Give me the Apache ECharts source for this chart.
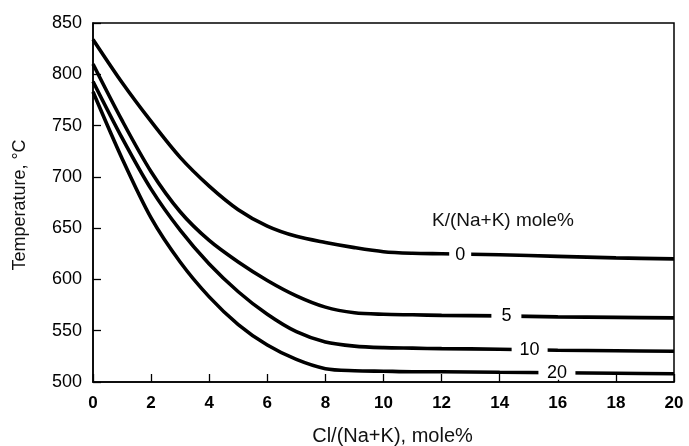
<!DOCTYPE html>
<html>
<head>
<meta charset="utf-8">
<script src="https://cdn.jsdelivr.net/npm/echarts@6/dist/echarts.min.js"></script>
<style>
html,body{margin:0;padding:0;background:#fff;}
#chart{width:689px;height:446px;}
</style>
</head>
<body>
<div id="chart"></div>
<script>
// Cl/(Na+K), mole%
const clValues = [0, 1, 2, 3, 4, 5, 6, 7, 8, 9, 10, 11, 12, 14, 16, 18, 20];
// Temperature (°C) for K/(Na+K) mole% = 0, 5, 10, 20
const curveK0  = [834, 792, 754, 719, 691, 668, 652, 642, 636, 631, 627, 625.5, 625, 624, 622.5, 621, 620];
const curveK5  = [810, 755, 705, 666, 638, 617, 599, 584, 573, 567.5, 566, 565.5, 565, 564.5, 563.5, 563, 562.5];
const curveK10 = [793, 738, 688, 648, 615, 588, 566, 549, 539, 535, 533.5, 533, 532.5, 532, 531, 530.5, 530];
const curveK20 = [783, 718, 660, 617, 583, 556, 536, 522, 513, 511, 510.5, 510, 510, 509.5, 509, 508.5, 508];
const curveNames = ['0', '5', '10', '20'];
// Where each curve's label sits (Cl value, temperature)
const labelCl   = [12.64, 14.23, 15.03, 15.97];
const labelTemp = [624, 564.5, 531.5, 509];

const xTicks = [0, 2, 4, 6, 8, 10, 12, 14, 16, 18, 20];
const yTicks = [500, 550, 600, 650, 700, 750, 800, 850];

const curves = [curveK0, curveK5, curveK10, curveK20];
const gapSizes = [[22, 14], [30, 14], [36, 14], [37, 14]];
const FONT = '"Liberation Sans", Arial, sans-serif';

const chart = echarts.init(document.getElementById('chart'), null, {renderer: 'canvas'});

const lineSeries = curves.map((c, i) => ({
  name: curveNames[i],
  type: 'line',
  data: clValues.map((x, j) => [x, c[j]]),
  showSymbol: false,
  smooth: 0.3,
  lineStyle: {color: '#000', width: 3.6},
  z: 2,
  silent: true
}));

const labelSeries = {
  type: 'scatter',
  symbol: 'rect',
  data: labelCl.map((x, i) => ({
    value: [x, labelTemp[i]],
    name: curveNames[i],
    symbolSize: gapSizes[i]
  })),
  itemStyle: {color: '#fff', opacity: 1},
  label: {
    show: true,
    position: 'inside',
    formatter: p => p.name,
    color: '#000',
    fontSize: 18,
    fontFamily: FONT
  },
  z: 5,
  silent: true
};

chart.setOption({
  animation: false,
  backgroundColor: '#fff',
  grid: {left: 93, right: 15, top: 23, bottom: 64, show: true, borderColor: '#000', borderWidth: 1.5,
         containLabel: false, outerBoundsMode: 'none'},
  xAxis: {
    type: 'value', min: xTicks[0], max: xTicks[xTicks.length - 1], interval: 2,
    name: 'Cl/(Na+K), mole%', nameLocation: 'middle', nameGap: 44,
    nameTextStyle: {fontSize: 20, fontFamily: FONT, color: '#111', padding: [0, 0, 0, 18]},
    axisLine: {lineStyle: {color: '#000', width: 1.5}},
    axisTick: {inside: true, length: 8, lineStyle: {color: '#000', width: 1.3}},
    axisLabel: {fontSize: 17, fontFamily: FONT, color: '#000', fontWeight: 'bold', margin: 13},
    splitLine: {show: false}
  },
  yAxis: {
    type: 'value', min: yTicks[0], max: yTicks[yTicks.length - 1], interval: 50,
    axisLine: {lineStyle: {color: '#000', width: 1.5}},
    axisTick: {inside: true, length: 8, lineStyle: {color: '#000', width: 1.3}},
    axisLabel: {fontSize: 18, fontFamily: FONT, color: '#000', margin: 11},
    splitLine: {show: false}
  },
  graphic: [
    {
      type: 'text', x: 20, y: 205, rotation: Math.PI / 2,
      style: {text: 'Temperature, °C', font: '18px ' + FONT, fill: '#111', textAlign: 'center', textVerticalAlign: 'middle'}
    },
    {
      type: 'text', x: 503, y: 221,
      style: {text: 'K/(Na+K) mole%', font: '19px ' + FONT, fill: '#111', textAlign: 'center', textVerticalAlign: 'middle'}
    }
  ],
  series: [...lineSeries, labelSeries]
});
</script>
</body>
</html>
